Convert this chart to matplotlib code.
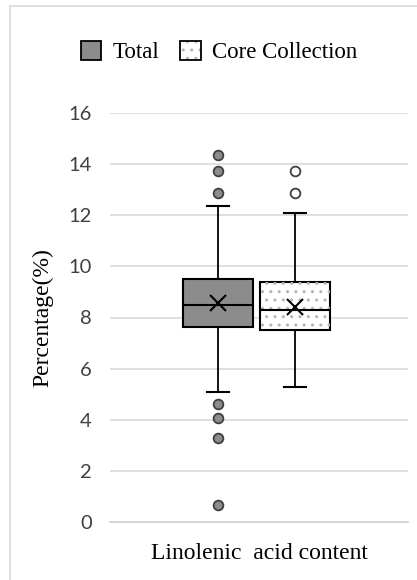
import matplotlib
matplotlib.use("Agg")
import matplotlib.pyplot as plt
from matplotlib.patches import Patch, Rectangle, PathPatch
from matplotlib.legend_handler import HandlerTuple

# box statistics
groups = ["Total", "Core Collection"]
q1 = [7.62, 7.51]
med = [8.50, 8.28]
q3 = [9.51, 9.39]
mean = [8.56, 8.43]
whislo = [5.09, 5.30]
whishi = [12.38, 12.07]
fliers = [[14.35, 13.75, 12.86, 4.60, 4.08, 3.27, 0.67],
          [13.75, 12.86]]
yticks = [0, 2, 4, 6, 8, 10, 12, 14, 16]

stats = []
for i in range(len(groups)):
    stats.append(dict(label=groups[i], q1=q1[i], med=med[i], q3=q3[i],
                      mean=mean[i], whislo=whislo[i], whishi=whishi[i],
                      fliers=fliers[i]))

fig = plt.figure(figsize=(4.17, 5.8), dpi=100)
ax = fig.add_axes([110/417, 1 - 522/580, 298/417, 409/580])

# light outer frame of the figure
fig.patches.append(Rectangle((10/417, -0.1), 1.2, 1.1 - 6/580,
                             transform=fig.transFigure, fill=False,
                             edgecolor="#d9d9d9", lw=1.2))

bp = ax.bxp(stats, positions=[1, 2], widths=0.91, patch_artist=True,
            showmeans=True, showcaps=True,
            boxprops=dict(edgecolor="black", linewidth=1.5),
            medianprops=dict(color="black", linewidth=1.5),
            whiskerprops=dict(color="black", linewidth=1.3),
            capprops=dict(color="black", linewidth=1.5),
            meanprops=dict(marker="x", markeredgecolor="black",
                           markersize=11, markeredgewidth=1.5))
for c in bp["caps"]:
    x = c.get_xdata()
    m = (x[0] + x[1]) / 2
    c.set_xdata([m - 0.14, m + 0.14])

bp["boxes"][0].set_facecolor("#8c8c8c")
bp["boxes"][1].set_facecolor("white")
bp["boxes"][1].set_zorder(1.5)
# faint dotted texture on the core collection box, under the lines
hp = PathPatch(bp["boxes"][1].get_path(), facecolor="none",
               edgecolor="#b5b5b5", lw=0, hatch="..", zorder=1.6)
ax.add_patch(hp)
for ln in bp["medians"] + bp["means"]:
    ln.set_zorder(3)

bp["fliers"][0].set(marker="o", markerfacecolor="#8c8c8c",
                    markeredgecolor="#404040", markersize=7,
                    markeredgewidth=1.3)
bp["fliers"][1].set(marker="o", markerfacecolor="white",
                    markeredgecolor="#404040", markersize=7,
                    markeredgewidth=1.3)

ax.set_xlim(-0.403, 3.468)
ax.set_ylim(0, 16)
ax.set_yticks(yticks)
ax.set_yticklabels([str(v) for v in yticks], fontfamily="Lato",
                   fontsize=14.5, color="#404040")
ax.set_xticks([])
ax.grid(axis="y", color="#d9d9d9", lw=1.2)
ax.set_axisbelow(True)
for s in ["left", "right", "top"]:
    ax.spines[s].set_visible(False)
ax.spines["bottom"].set_color("#d0d0d0")
ax.spines["bottom"].set_linewidth(1.2)
ax.tick_params(axis="y", length=0, pad=13)

ax.set_ylabel("Percentage(%)", fontfamily="Liberation Serif",
              fontsize=17, labelpad=11)
ax.set_xlabel("Linolenic  acid content", fontfamily="Liberation Serif",
              fontsize=17, labelpad=15)

h_total = Patch(facecolor="#8c8c8c", edgecolor="black", lw=1.3)
h_core = (Patch(facecolor="white", edgecolor="#b5b5b5", lw=0, hatch=".."),
          Patch(facecolor="none", edgecolor="black", lw=1.3))
fig.legend([h_total, h_core], groups, loc="center",
           bbox_to_anchor=(0.525, 1 - 52/580),
           ncol=2, frameon=False, handlelength=0.9, handleheight=0.9,
           handletextpad=0.5, columnspacing=0.9,
           handler_map={tuple: HandlerTuple(ndivide=1, pad=0)},
           prop=dict(family="Liberation Serif", size=16.5))

fig.savefig("out.png", dpi=100)
